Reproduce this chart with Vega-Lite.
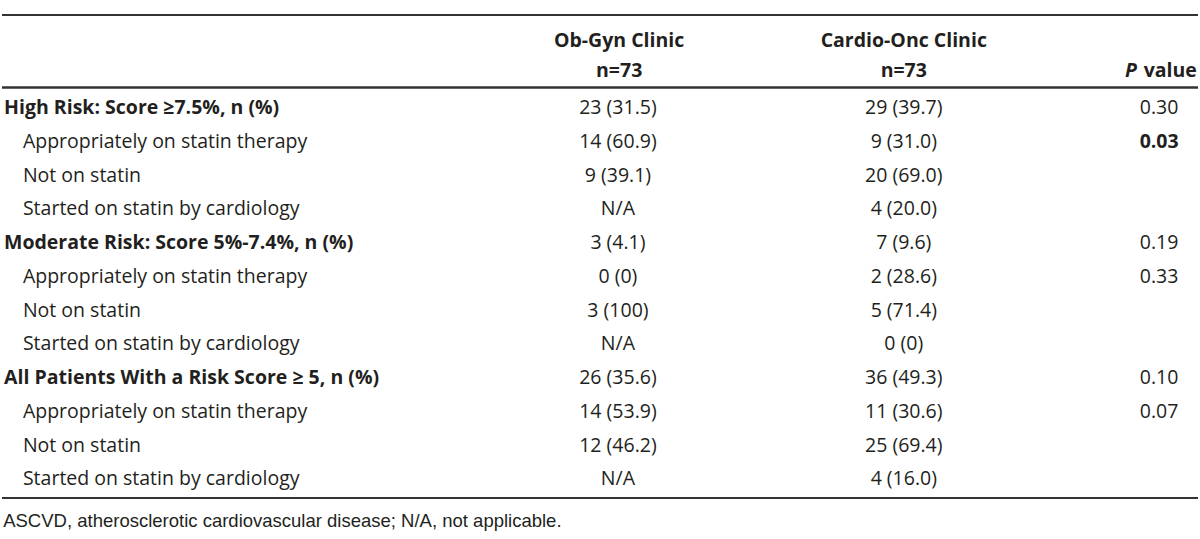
{
  "$schema": "https://vega.github.io/schema/vega-lite/v6.json",
  "width": 1200,
  "height": 539,
  "autosize": {"type": "fit", "contains": "padding"},
  "padding": 0,
  "background": "#ffffff",
  "config": {
    "view": {"stroke": null},
    "text": {"font": "Open Sans", "fontSize": 19.5, "color": "#231f20", "baseline": "middle"},
    "rule": {"color": "#333333"}
  },
  "data": {
    "values": [
      {"row": 0, "level": "group", "label": "High Risk: Score ≥7.5%, n (%)", "obgyn": "23 (31.5)", "cardio": "29 (39.7)", "p": "0.30", "sig": false},
      {"row": 1, "level": "item", "label": "Appropriately on statin therapy", "obgyn": "14 (60.9)", "cardio": "9 (31.0)", "p": "0.03", "sig": true},
      {"row": 2, "level": "item", "label": "Not on statin", "obgyn": "9 (39.1)", "cardio": "20 (69.0)", "p": "", "sig": false},
      {"row": 3, "level": "item", "label": "Started on statin by cardiology", "obgyn": "N/A", "cardio": "4 (20.0)", "p": "", "sig": false},
      {"row": 4, "level": "group", "label": "Moderate Risk: Score 5%-7.4%, n (%)", "obgyn": "3 (4.1)", "cardio": "7 (9.6)", "p": "0.19", "sig": false},
      {"row": 5, "level": "item", "label": "Appropriately on statin therapy", "obgyn": "0 (0)", "cardio": "2 (28.6)", "p": "0.33", "sig": false},
      {"row": 6, "level": "item", "label": "Not on statin", "obgyn": "3 (100)", "cardio": "5 (71.4)", "p": "", "sig": false},
      {"row": 7, "level": "item", "label": "Started on statin by cardiology", "obgyn": "N/A", "cardio": "0 (0)", "p": "", "sig": false},
      {"row": 8, "level": "group", "label": "All Patients With a Risk Score ≥ 5, n (%)", "obgyn": "26 (35.6)", "cardio": "36 (49.3)", "p": "0.10", "sig": false},
      {"row": 9, "level": "item", "label": "Appropriately on statin therapy", "obgyn": "14 (53.9)", "cardio": "11 (30.6)", "p": "0.07", "sig": false},
      {"row": 10, "level": "item", "label": "Not on statin", "obgyn": "12 (46.2)", "cardio": "25 (69.4)", "p": "", "sig": false},
      {"row": 11, "level": "item", "label": "Started on statin by cardiology", "obgyn": "N/A", "cardio": "4 (16.0)", "p": "", "sig": false}
    ]
  },
  "layer": [
    {
      "data": {"values": [{}]},
      "mark": {"type": "rule", "strokeWidth": 2},
      "encoding": {
        "y": {"datum": -2.756, "type": "quantitative", "scale": {"domain": [-3.2, 12.77], "reverse": true, "nice": false, "zero": false}, "axis": null}
      }
    },
    {
      "data": {"values": [{}]},
      "mark": {"type": "rule", "strokeWidth": 2.5},
      "encoding": {
        "y": {"datum": -0.607, "type": "quantitative", "scale": {"domain": [-3.2, 12.77], "reverse": true, "nice": false, "zero": false}, "axis": null}
      }
    },
    {
      "data": {"values": [{}]},
      "mark": {"type": "rule", "strokeWidth": 2},
      "encoding": {
        "y": {"datum": 11.556, "type": "quantitative", "scale": {"domain": [-3.2, 12.77], "reverse": true, "nice": false, "zero": false}, "axis": null}
      }
    },
    {
      "data": {"values": [{}]},
      "mark": {"type": "text", "fontWeight": "bold", "align": "center"},
      "encoding": {
        "text": {"value": "Ob-Gyn Clinic"},
        "x": {"datum": 51.6, "type": "quantitative", "scale": {"domain": [0, 100], "nice": false, "zero": false}, "axis": null},
        "y": {"datum": -1.98, "type": "quantitative", "scale": {"domain": [-3.2, 12.77], "reverse": true, "nice": false, "zero": false}, "axis": null}
      }
    },
    {
      "data": {"values": [{}]},
      "mark": {"type": "text", "fontWeight": "bold", "align": "center"},
      "encoding": {
        "text": {"value": "n=73"},
        "x": {"datum": 51.6, "type": "quantitative", "scale": {"domain": [0, 100], "nice": false, "zero": false}, "axis": null},
        "y": {"datum": -1.09, "type": "quantitative", "scale": {"domain": [-3.2, 12.77], "reverse": true, "nice": false, "zero": false}, "axis": null}
      }
    },
    {
      "data": {"values": [{}]},
      "mark": {"type": "text", "fontWeight": "bold", "align": "center"},
      "encoding": {
        "text": {"value": "Cardio-Onc Clinic"},
        "x": {"datum": 75.4, "type": "quantitative", "scale": {"domain": [0, 100], "nice": false, "zero": false}, "axis": null},
        "y": {"datum": -1.98, "type": "quantitative", "scale": {"domain": [-3.2, 12.77], "reverse": true, "nice": false, "zero": false}, "axis": null}
      }
    },
    {
      "data": {"values": [{}]},
      "mark": {"type": "text", "fontWeight": "bold", "align": "center"},
      "encoding": {
        "text": {"value": "n=73"},
        "x": {"datum": 75.4, "type": "quantitative", "scale": {"domain": [0, 100], "nice": false, "zero": false}, "axis": null},
        "y": {"datum": -1.09, "type": "quantitative", "scale": {"domain": [-3.2, 12.77], "reverse": true, "nice": false, "zero": false}, "axis": null}
      }
    },
    {
      "data": {"values": [{}]},
      "mark": {"type": "text", "fontWeight": "bold", "align": "right"},
      "encoding": {
        "text": {"value": "value"},
        "x": {"datum": 99.9, "type": "quantitative", "scale": {"domain": [0, 100], "nice": false, "zero": false}, "axis": null},
        "y": {"datum": -1.09, "type": "quantitative", "scale": {"domain": [-3.2, 12.77], "reverse": true, "nice": false, "zero": false}, "axis": null}
      }
    },
    {
      "data": {"values": [{}]},
      "mark": {"type": "text", "fontWeight": "bold", "fontStyle": "italic", "align": "right"},
      "encoding": {
        "text": {"value": "P"},
        "x": {"datum": 94.9, "type": "quantitative", "scale": {"domain": [0, 100], "nice": false, "zero": false}, "axis": null},
        "y": {"datum": -1.09, "type": "quantitative", "scale": {"domain": [-3.2, 12.77], "reverse": true, "nice": false, "zero": false}, "axis": null}
      }
    },
    {
      "transform": [{"filter": "datum.level === 'group'"}],
      "mark": {"type": "text", "fontWeight": "bold", "align": "left"},
      "encoding": {
        "text": {"field": "label"},
        "x": {"datum": 0.17, "type": "quantitative", "scale": {"domain": [0, 100], "nice": false, "zero": false}, "axis": null},
        "y": {"field": "row", "type": "quantitative", "scale": {"domain": [-3.2, 12.77], "reverse": true, "nice": false, "zero": false}, "axis": null}
      }
    },
    {
      "transform": [{"filter": "datum.level === 'item'"}],
      "mark": {"type": "text", "align": "left"},
      "encoding": {
        "text": {"field": "label"},
        "x": {"datum": 1.75, "type": "quantitative", "scale": {"domain": [0, 100], "nice": false, "zero": false}, "axis": null},
        "y": {"field": "row", "type": "quantitative", "scale": {"domain": [-3.2, 12.77], "reverse": true, "nice": false, "zero": false}, "axis": null}
      }
    },
    {
      "mark": {"type": "text", "align": "center"},
      "encoding": {
        "text": {"field": "obgyn"},
        "x": {"datum": 51.5, "type": "quantitative", "scale": {"domain": [0, 100], "nice": false, "zero": false}, "axis": null},
        "y": {"field": "row", "type": "quantitative", "scale": {"domain": [-3.2, 12.77], "reverse": true, "nice": false, "zero": false}, "axis": null}
      }
    },
    {
      "mark": {"type": "text", "align": "center"},
      "encoding": {
        "text": {"field": "cardio"},
        "x": {"datum": 75.4, "type": "quantitative", "scale": {"domain": [0, 100], "nice": false, "zero": false}, "axis": null},
        "y": {"field": "row", "type": "quantitative", "scale": {"domain": [-3.2, 12.77], "reverse": true, "nice": false, "zero": false}, "axis": null}
      }
    },
    {
      "transform": [{"filter": "!datum.sig"}],
      "mark": {"type": "text", "align": "center"},
      "encoding": {
        "text": {"field": "p"},
        "x": {"datum": 96.75, "type": "quantitative", "scale": {"domain": [0, 100], "nice": false, "zero": false}, "axis": null},
        "y": {"field": "row", "type": "quantitative", "scale": {"domain": [-3.2, 12.77], "reverse": true, "nice": false, "zero": false}, "axis": null}
      }
    },
    {
      "transform": [{"filter": "datum.sig"}],
      "mark": {"type": "text", "align": "center", "fontWeight": "bold"},
      "encoding": {
        "text": {"field": "p"},
        "x": {"datum": 96.75, "type": "quantitative", "scale": {"domain": [0, 100], "nice": false, "zero": false}, "axis": null},
        "y": {"field": "row", "type": "quantitative", "scale": {"domain": [-3.2, 12.77], "reverse": true, "nice": false, "zero": false}, "axis": null}
      }
    },
    {
      "data": {"values": [{"note": "ASCVD, atherosclerotic cardiovascular disease; N/A, not applicable."}]},
      "mark": {"type": "text", "align": "left", "font": "Liberation Sans", "fontSize": 18.5},
      "encoding": {
        "text": {"field": "note"},
        "x": {"datum": 0.1, "type": "quantitative", "scale": {"domain": [0, 100], "nice": false, "zero": false}, "axis": null},
        "y": {"datum": 12.25, "type": "quantitative", "scale": {"domain": [-3.2, 12.77], "reverse": true, "nice": false, "zero": false}, "axis": null}
      }
    }
  ]
}
